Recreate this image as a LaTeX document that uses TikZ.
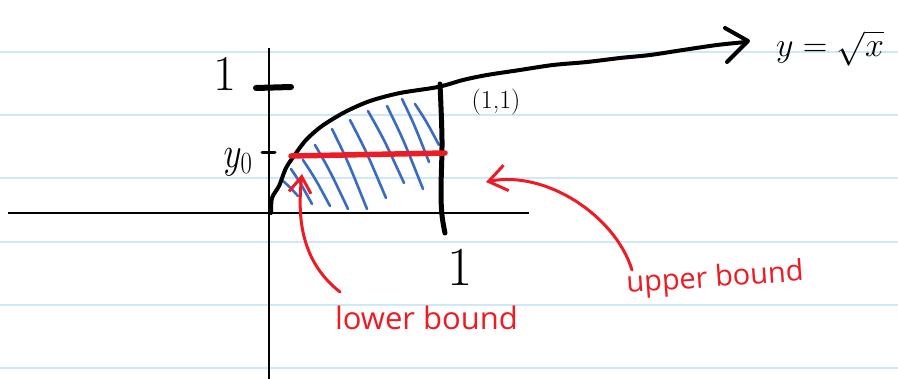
\RequirePackage{fix-cm}
\documentclass[tikz,border=0pt]{standalone}
\usepackage{fontspec}
\newfontfamily\hand{Open Sans}
\usetikzlibrary{arrows.meta}
\definecolor{rulecol}{HTML}{CDE8F8}
\definecolor{penred}{HTML}{ED1C24}
\definecolor{hatchblue}{HTML}{3A6BC2}
\begin{document}
\begin{tikzpicture}[x=1pt,y=-1pt,
  ruleline/.style={rulecol,line width=2pt},
  axisline/.style={black,line width=2.5pt},
  ink/.style={black,line width=4pt,line cap=round,line join=round},
  hatchline/.style={hatchblue,line width=2.6pt,line cap=round},
  redpen/.style={penred,line width=3pt,line cap=round,line join=round},
  lab/.style={inner sep=0pt,outer sep=0pt},
  redlab/.style={lab,penred,font=\hand\fontsize{31}{31}\selectfont}]
\useasboundingbox[fill=white] (0,0) rectangle (898,379);
% ruled paper
\foreach \yy in {52,115,178,242,305,368}
  \draw[ruleline] (0,\yy) -- (898,\yy);
% axes
\draw[axisline] (8,213) -- (529,213);
\draw[axisline] (269,48) -- (269,379);
% ticks
\draw[ink,line width=6pt] (256,88) -- (291,87);
\draw[ink,line width=3pt] (262,153) -- (275,153);
% hatching
\foreach \ax/\ay/\bx/\by in {283/181/298/196, 291/169/312/204, 303/160/330/206,
   315/145/348/209, 332/129/367/209, 350/120/386/198, 368/111/404/183,
   387/106/423/189, 402/99/429/162, 415/104/439/145}
  \draw[hatchline] (\ax,\ay) .. controls ({\ax+0.45*(\bx-\ax)},{\ay+0.4*(\by-\ay)}) .. (\bx,\by);
% curve y = sqrt x
\draw[ink] plot[smooth,tension=0.5] coordinates {(271,213) (272,198) (279,186) (286,168)
  (294,156) (306,140) (322,126) (345,112) (370,101) (400,93) (438,87) (463,80)
  (487,75) (520,70) (553,65) (587,62) (620,58) (650,55) (683,50) (717,45) (746,42)};
\draw[ink] (725,28) -- (748,41) -- (727,62);
% vertical line at x = 1
\draw[ink,line width=5pt] plot[smooth,tension=0.6] coordinates {(440,84) (442,140) (441,190) (442,215) (445,233)};
% red horizontal segment
\draw[penred,line width=5.5pt,line cap=round] (291,156) -- (370,154.5) -- (445,153);
% labels
\node[lab,font=\fontsize{50}{50}\selectfont] (oney) at (225,74) {1};
\node[lab,font=\fontsize{44}{44}\selectfont,xscale=0.8] (yzero) at (238,162) {$y_0$};
\node[lab,font=\fontsize{55}{55}\selectfont] (onex) at (460,267) {1};
\node[lab,font=\fontsize{26}{26}\selectfont] (pt) at (496,102) {(1,1)};
\node[lab,anchor=base west,font=\fontsize{34}{34}\selectfont] (eq) at (776,57) {$y=\sqrt{x}$};
\node[redlab,anchor=base west] (lb) at (335,330) {lower bound};
\node[redlab,anchor=base west,rotate=4,font=\hand\fontsize{29}{29}\selectfont] (ub) at (627,293) {upper bound};
% red arrows
\coordinate (lbs) at (340,292);
\coordinate (lbt) at (302,174);
\coordinate (ubs) at (632,270);
\coordinate (ubt) at (486,182);
\draw[redpen,-{Straight Barb[length=16pt,width=22pt]}] (lbs) .. controls (302,262) and (297,220) .. (lbt);
\draw[redpen,-{Straight Barb[length=18pt,width=26pt]}] (ubs) .. controls (615,215) and (545,170) .. (ubt);
\end{tikzpicture}
\end{document}
